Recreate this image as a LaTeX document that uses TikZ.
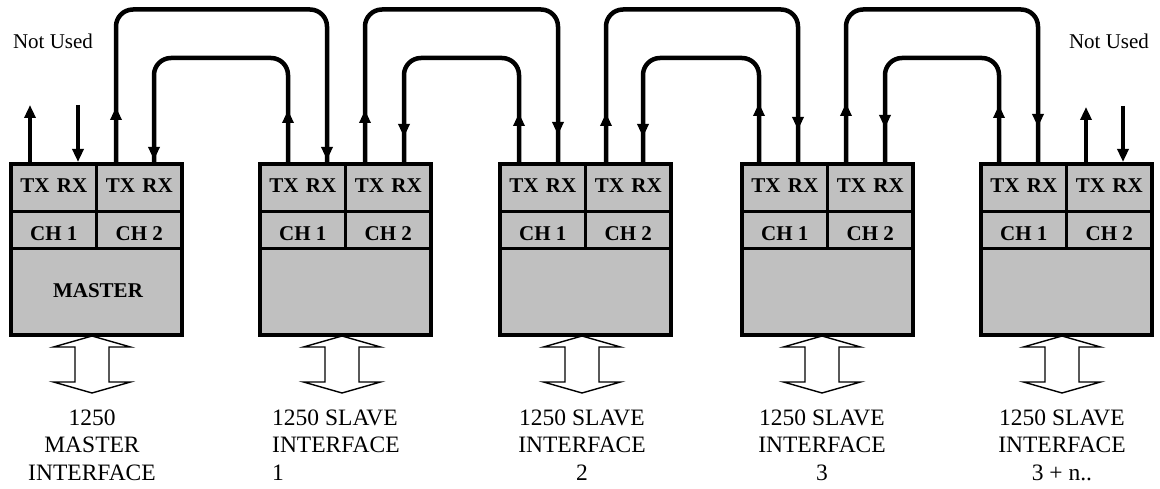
\documentclass[tikz,border=0pt]{standalone}
\usepackage{fontspec}
\setmainfont{Liberation Serif}
\usetikzlibrary{arrows.meta,decorations.markings}
\definecolor{boxgray}{HTML}{C0C0C0}
\newcommand{\busarrow}[1]{%
  \draw[barrow] (#1) -- ++(38.5,11) -- ++(-21.5,0) -- ++(0,35) -- ++(21.5,0)
    -- ++(-38.5,11) -- ++(-38.5,-11) -- ++(21.5,0) -- ++(0,-35) -- ++(-21.5,0) -- cycle;}
\begin{document}
\begin{tikzpicture}[x=1pt,y=-1pt,
  blk/.style={draw, fill=boxgray, line width=4pt, minimum width=171pt, minimum height=171pt, inner sep=0pt, outer sep=0pt},
  divl/.style={line width=3.5pt},
  celltxt/.style={font=\fontsize{21}{25}\selectfont\bfseries, inner sep=0pt},
  conn/.style={line width=4.5pt, rounded corners=17pt},
  headtip/.style={-{Triangle[length=13pt,width=11pt]}},
  loopc/.style 2 args={conn, postaction={decorate, decoration={markings,
      mark=at position #1 with {\arrow{Triangle[length=13pt,width=11pt]}},
      mark=at position #2 with {\arrow{Triangle[length=13pt,width=11pt]}}}}},
  barrow/.style={draw, fill=white, line width=1.4pt, line join=miter},
  nutxt/.style={font=\fontsize{21}{25}\selectfont, inner sep=0pt},
  lbl/.style={font=\fontsize{23.5}{27.5}\selectfont, inner sep=0pt}
]
\useasboundingbox (0,0) rectangle (1160,489);

% blocks
\foreach \n/\c in {m/96.5, s1/345.5, s2/585.5, s3/827.5, s4/1066.5}{
  \node[blk] (\n) at (\c,249.5) {};
  \draw[divl] (\n.west |- 0,211.5) -- (\n.east |- 0,211.5);
  \draw[divl] (\n.west |- 0,248.5) -- (\n.east |- 0,248.5);
  \draw[divl] (\n.north) -- (\n.north |- 0,248.5);
  \node[celltxt] (\n-t1) at (\c-42.75,186) {TX\hspace{0.35em}RX};
  \node[celltxt] (\n-t2) at (\c+42.75,186) {TX\hspace{0.35em}RX};
  \node[celltxt] (\n-c1) at (\c-42.75,233.5) {CH 1};
  \node[celltxt] (\n-c2) at (\c+42.75,233.5) {CH 2};
}
\node[celltxt] (mtxt) at (98,291) {MASTER};

% ports
\coordinate (m-tx1) at (30,163);  \coordinate (m-rx1) at (78,162);
\coordinate (m-tx2) at (116,163); \coordinate (m-rx2) at (154,163);
\coordinate (s1-tx1) at (288,163); \coordinate (s1-rx1) at (327,163);
\coordinate (s1-tx2) at (365,163); \coordinate (s1-rx2) at (404,163);
\coordinate (s2-tx1) at (519,163); \coordinate (s2-rx1) at (558,163);
\coordinate (s2-tx2) at (606,163); \coordinate (s2-rx2) at (643,163);
\coordinate (s3-tx1) at (759,163); \coordinate (s3-rx1) at (798,163);
\coordinate (s3-tx2) at (846,163); \coordinate (s3-rx2) at (885,163);
\coordinate (s4-tx1) at (999,163); \coordinate (s4-rx1) at (1038,163);
\coordinate (s4-tx2) at (1086,163); \coordinate (s4-rx2) at (1123,162);
\coordinate (top) at (0,9.5);
\coordinate (mid) at (0,58);

% loops
\draw[loopc={56pt}{-3pt}]  (m-tx2)  -- (m-tx2 |- top)  -- (s1-rx1 |- top) -- (s1-rx1);
\draw[loopc={53pt}{-3pt}]  (s1-tx1) -- (s1-tx1 |- mid) -- (m-rx2 |- mid)  -- (m-rx2);
\draw[loopc={53pt}{-28pt}] (s1-tx2) -- (s1-tx2 |- top) -- (s2-rx1 |- top) -- (s2-rx1);
\draw[loopc={50pt}{-26pt}] (s2-tx1) -- (s2-tx1 |- mid) -- (s1-rx2 |- mid) -- (s1-rx2);
\draw[loopc={50pt}{-33pt}] (s2-tx2) -- (s2-tx2 |- top) -- (s3-rx1 |- top) -- (s3-rx1);
\draw[loopc={60pt}{-26pt}] (s3-tx1) -- (s3-tx1 |- mid) -- (s2-rx2 |- mid) -- (s2-rx2);
\draw[loopc={60pt}{-36pt}] (s3-tx2) -- (s3-tx2 |- top) -- (s4-rx1 |- top) -- (s4-rx1);
\draw[loopc={58pt}{-35pt}] (s4-tx1) -- (s4-tx1 |- mid) -- (s3-rx2 |- mid) -- (s3-rx2);

% not used
\coordinate (m-nu1) at (30,105);   \coordinate (m-nu2) at (78,105);
\coordinate (s4-nu1) at (1086,107); \coordinate (s4-nu2) at (1123,106);
\draw[conn,headtip] (m-tx1) -- (m-nu1);
\draw[conn,headtip] (m-nu2) -- (m-rx1);
\draw[conn,headtip] (s4-tx2) -- (s4-nu1);
\draw[conn,headtip] (s4-nu2) -- (s4-rx2);
\node[nutxt] (nul) at (53,41) {Not Used};
\node[nutxt] (nur) at (1109,41) {Not Used};

% bus arrows
\coordinate (ba0) at (92,336);
\coordinate (ba1) at (342,336);
\coordinate (ba2) at (582,336);
\coordinate (ba3) at (822,336);
\coordinate (ba4) at (1062,336);
\busarrow{ba0}\busarrow{ba1}\busarrow{ba2}\busarrow{ba3}\busarrow{ba4}

% labels (anchor=base is the baseline of the last line)
\node[lbl, align=center, anchor=base] (l0) at (92,480) {1250\\MASTER\\INTERFACE};
\node[lbl, align=left, anchor=base west] (l1) at (272,480) {1250 SLAVE\\INTERFACE\\1};
\node[lbl, align=center, anchor=base] (l2) at (582,480) {1250 SLAVE\\INTERFACE\\2};
\node[lbl, align=center, anchor=base] (l3) at (822,480) {1250 SLAVE\\INTERFACE\\3};
\node[lbl, align=center, anchor=base] (l4) at (1062,480) {1250 SLAVE\\INTERFACE\\3 + n..};
\end{tikzpicture}
\end{document}
